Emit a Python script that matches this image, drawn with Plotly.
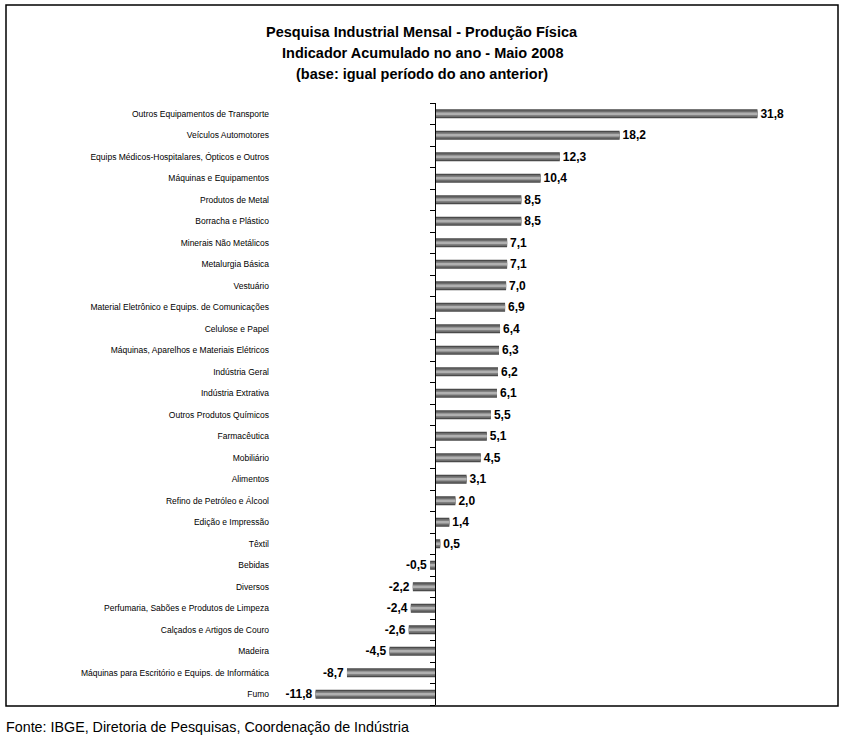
import plotly.graph_objects as go

categories = [
    "Outros Equipamentos de Transporte",
    "Veículos Automotores",
    "Equips Médicos-Hospitalares, Ópticos e Outros",
    "Máquinas e Equipamentos",
    "Produtos de Metal",
    "Borracha e Plástico",
    "Minerais Não Metálicos",
    "Metalurgia Básica",
    "Vestuário",
    "Material Eletrônico e Equips. de Comunicações",
    "Celulose e Papel",
    "Máquinas, Aparelhos e Materiais Elétricos",
    "Indústria Geral",
    "Indústria Extrativa",
    "Outros Produtos Químicos",
    "Farmacêutica",
    "Mobiliário",
    "Alimentos",
    "Refino de Petróleo e Álcool",
    "Edição e Impressão",
    "Têxtil",
    "Bebidas",
    "Diversos",
    "Perfumaria, Sabões e Produtos de Limpeza",
    "Calçados e Artigos de Couro",
    "Madeira",
    "Máquinas para Escritório e Equips. de Informática",
    "Fumo",
]
values = [31.8, 18.2, 12.3, 10.4, 8.5, 8.5, 7.1, 7.1, 7.0, 6.9, 6.4, 6.3, 6.2, 6.1,
          5.5, 5.1, 4.5, 3.1, 2.0, 1.4, 0.5, -0.5, -2.2, -2.4, -2.6, -4.5, -8.7, -11.8]
labels = [f"{v:.1f}".replace(".", ",") for v in values]

title_lines = [
    "Pesquisa Industrial Mensal - Produção Física",
    "Indicador Acumulado no ano - Maio 2008",
    "(base: igual período do ano anterior)",
]
footer = "Fonte: IBGE, Diretoria de Pesquisas, Coordenação de Indústria"

W, H = 845, 742
# plot area in page pixels
PL, PR, PT, PB = 273, 800, 103, 705
L, T = PL, PT
R, B = W - PR, H - PB
XMIN, XMAX = -16, 36
pw, ph = PR - PL, PB - PT
n = len(categories)


def px_x(px):
    return (px - PL) / pw


def px_y(py):
    return (PB - py) / ph


FONT = "Liberation Sans, Arial, sans-serif"

fig = go.Figure()
layers = [(0.42, "#4a4a4a"), (0.30, "#6e6e6e"), (0.16, "#959595"), (0.06, "#b0b0b0")]
for i, (w, c) in enumerate(layers):
    fig.add_trace(go.Bar(
        y=categories, x=values, orientation="h", width=w,
        marker=dict(color=c, line=dict(width=0)),
        text=labels if i == 0 else None,
        textposition="outside" if i == 0 else "none",
        constraintext="none",
        textfont=dict(family=FONT, size=12, color="black", weight="bold"),
        cliponaxis=False, hoverinfo="skip", showlegend=False,
    ))

# zero axis with boundary ticks
fig.add_trace(go.Scatter(x=[None], y=[None], yaxis="y2", showlegend=False))

annotations = []
for k, line in enumerate(title_lines):
    annotations.append(dict(
        text=f"<b>{line}</b>", x=px_x(422), xref="paper", xanchor="center",
        y=px_y(32 + 21 * k), yref="paper", yanchor="middle", showarrow=False,
        font=dict(family=FONT, size=14.5, color="black"),
    ))
annotations.append(dict(
    text=footer, x=px_x(4), xref="paper", xanchor="left",
    y=px_y(727), yref="paper", yanchor="middle", showarrow=False,
    font=dict(family=FONT, size=14.3, color="black"),
))

fig.update_layout(
    width=W, height=H,
    margin=dict(l=L, r=R, t=T, b=B, autoexpand=False),
    paper_bgcolor="white", plot_bgcolor="white",
    barmode="overlay",
    xaxis=dict(range=[XMIN, XMAX], showgrid=False, zeroline=False,
               showticklabels=False, ticks="", showline=False),
    yaxis=dict(type="category", categoryarray=categories, autorange="reversed",
               showgrid=False, zeroline=False, showline=False, ticks="",
               tickfont=dict(family=FONT, size=8.5, color="black"), ticklabelstandoff=3),
    yaxis2=dict(overlaying="y", anchor="free", position=(0 - XMIN) / (XMAX - XMIN),
                side="left", range=[n - 0.5, -0.5],
                tickvals=[i - 0.5 for i in range(n + 1)], ticks="outside", ticklen=5,
                tickcolor="black", showticklabels=False, showgrid=False, zeroline=False,
                showline=True, linecolor="black", linewidth=1),
    annotations=annotations,
    shapes=[dict(type="rect", xref="paper", yref="paper",
                 x0=px_x(6), x1=px_x(838), y0=px_y(706), y1=px_y(5),
                 line=dict(color="black", width=1.5), fillcolor="rgba(0,0,0,0)", layer="below")],
    font=dict(family=FONT),
)

fig.write_html("out.html", config={"displayModeBar": False},
               post_script="document.body.style.margin='0';document.body.style.overflow='hidden';")
